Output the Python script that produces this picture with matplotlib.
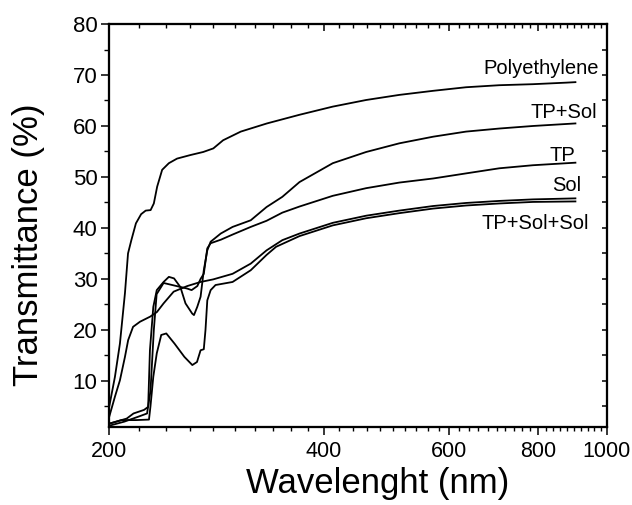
import matplotlib
matplotlib.use('Agg')
import matplotlib.pyplot as plt
from matplotlib.ticker import NullFormatter, FixedLocator

plt.rcParams['font.family'] = ['Liberation Sans', 'DejaVu Sans']

# ---------------- data ----------------
wl_poly = [200, 203.7, 207, 210.4, 212.5, 214.8, 218, 221.7, 225, 228.6, 231, 233.5, 237.3,
           242.5, 249, 260, 271, 280, 289, 306, 333, 370, 412, 459, 511, 570, 634, 706, 787, 876, 903]
t_poly = [5.0, 10.8, 17.3, 27.2, 35.0, 37.6, 40.9, 42.7, 43.4, 43.5, 44.8, 48.1, 51.4,
          52.7, 53.6, 54.3, 54.9, 55.6, 57.2, 58.9, 60.5, 62.2, 63.8, 65.1, 66.1, 66.9, 67.6, 68.0, 68.2, 68.5, 68.6]

wl_tps = [200, 211.6, 216.3, 223.8, 226.8, 228.1, 230.6, 233.2, 238.4, 242.5, 246.6, 251.7, 255.9,
          261.5, 263, 265.8, 268.7, 271.5, 274.6, 277.6, 286.8, 298, 316, 332.6, 350, 370, 412, 459,
          511, 570, 634, 706, 787, 903]
t_tps = [1.6, 2.6, 3.6, 4.3, 4.9, 16.0, 24.5, 27.8, 29.4, 30.4, 30.1, 28.4, 25.2,
         23.2, 22.9, 24.5, 26.5, 31.7, 35.6, 37.3, 38.9, 40.2, 41.5, 44.1, 46.1, 49.0, 52.7, 54.9,
         56.6, 57.9, 58.9, 59.5, 60.0, 60.5]

wl_tp = [200, 210, 220, 226, 228.5, 231, 233.1, 238.4, 248.6, 257.4, 261, 265.9, 268.7, 271.5,
         274.6, 277.6, 287, 298, 316, 332.6, 350, 370, 412, 459, 511, 570, 634, 706, 787, 903]
t_tp = [1.2, 2.0, 3.0, 3.6, 8.0, 20.0, 27.0, 29.2, 28.6, 28.1, 27.8, 28.6, 30.0, 31.0,
        36.0, 37.0, 37.7, 38.7, 40.2, 41.4, 43.0, 44.2, 46.3, 47.8, 48.9, 49.7, 50.7, 51.7, 52.3, 52.8]

wl_sol = [200, 203.7, 207, 210.4, 212.6, 216, 220.9, 228.3, 233.3, 238.4, 246.3, 257.4, 268.7,
          279.8, 298, 316, 332.6, 350, 370, 412, 459, 511, 570, 634, 706, 787, 903]
t_sol = [3.0, 6.9, 10.1, 14.7, 18.0, 20.6, 21.6, 22.6, 23.5, 25.2, 27.5, 28.6, 29.4,
         29.9, 31.0, 33.0, 35.6, 37.6, 38.9, 41.0, 42.4, 43.4, 44.3, 44.9, 45.3, 45.6, 45.8]

wl_tpss = [200, 208, 218, 227.4, 228.5, 230.6, 233.2, 236.6, 240.5, 247, 255, 261.6, 265.6,
           268.7, 271.5, 273, 274.6, 277.6, 282, 298, 316, 332.6, 343, 370, 412, 459, 511, 570,
           634, 706, 787, 903]
t_tpss = [1.6, 2.3, 2.3, 2.4, 5.0, 10.8, 15.4, 19.0, 19.3, 17.3, 14.7, 13.1, 13.7,
          16.0, 16.2, 20.0, 25.8, 27.8, 28.8, 29.4, 31.7, 34.7, 36.3, 38.4, 40.5, 41.9, 42.9, 43.8,
          44.4, 44.8, 45.1, 45.2]

series_labels = ['Polyethylene', 'TP+Sol', 'TP', 'Sol', 'TP+Sol+Sol']
label_x = [975, 968, 903, 920, 944]
label_y = [70.2, 61.5, 53.2, 47.3, 39.7]

x_major = [200, 400, 600, 800, 1000]
x_major_labels = ['200', '400', '600', '800', '1000']
x_minor = [v for v in range(220, 1000, 20) if v not in x_major]
y_major = [10, 20, 30, 40, 50, 60, 70, 80]
y_minor = [5, 15, 25, 35, 45, 55, 65, 75]
y_right = list(range(5, 80, 5))

# ---------------- figure ----------------
fig = plt.figure(figsize=(6.32, 5.05), dpi=100)
ax = fig.add_axes([0.1729, 0.155, 0.7875, 0.7974])

lw = 1.3
for wl, t in [(wl_poly, t_poly), (wl_tps, t_tps), (wl_tp, t_tp), (wl_sol, t_sol), (wl_tpss, t_tpss)]:
    ax.plot(wl, t, color='black', lw=lw)

ax.set_xscale('log')
ax.set_xlim(200, 1000)
ax.set_ylim(1, 80)

ax.xaxis.set_major_locator(FixedLocator(x_major))
ax.set_xticklabels(x_major_labels)
ax.xaxis.set_minor_locator(FixedLocator(x_minor))
ax.xaxis.set_minor_formatter(NullFormatter())
ax.yaxis.set_major_locator(FixedLocator(y_major))
ax.yaxis.set_minor_locator(FixedLocator(y_minor))

ax.tick_params(axis='x', which='major', direction='out', length=5.5, width=1.1,
               labelsize=15.5, pad=5, top=False)
ax.tick_params(axis='x', which='minor', direction='out', length=3, width=1.0, top=False)
ax.tick_params(axis='y', which='major', direction='out', length=5.5, width=1.1,
               labelsize=16, pad=3, right=False)
ax.tick_params(axis='y', which='minor', direction='out', length=3.5, width=1.0, right=False)

for s in ax.spines.values():
    s.set_linewidth(1.5)

# top ticks (inward)
axt = ax.twiny()
axt.set_xscale('log')
axt.set_xlim(200, 1000)
axt.xaxis.set_major_locator(FixedLocator(x_major))
axt.xaxis.set_minor_locator(FixedLocator(x_minor))
axt.xaxis.set_major_formatter(NullFormatter())
axt.xaxis.set_minor_formatter(NullFormatter())
axt.tick_params(axis='x', which='major', direction='in', length=5, width=1.1)
axt.tick_params(axis='x', which='minor', direction='in', length=3, width=1.0)

# right ticks (inward)
axr = ax.twinx()
axr.set_ylim(1, 80)
axr.yaxis.set_major_locator(FixedLocator(y_right))
axr.yaxis.set_major_formatter(NullFormatter())
axr.tick_params(axis='y', which='major', direction='in', length=3.5, width=1.1)
for a in (axt, axr):
    for s in a.spines.values():
        s.set_linewidth(1.5)

for lab, lx, ly in zip(series_labels, label_x, label_y):
    ax.text(lx, ly, lab, ha='right', va='baseline', fontsize=14.5)

ax.set_xlabel('Wavelenght (nm)', fontsize=25)
ax.set_ylabel('Transmittance (%)', fontsize=25)
ax.xaxis.set_label_coords(0.54, -0.10)
ax.yaxis.set_label_coords(-0.13, 0.451)

fig.savefig('out.png', dpi=100)
